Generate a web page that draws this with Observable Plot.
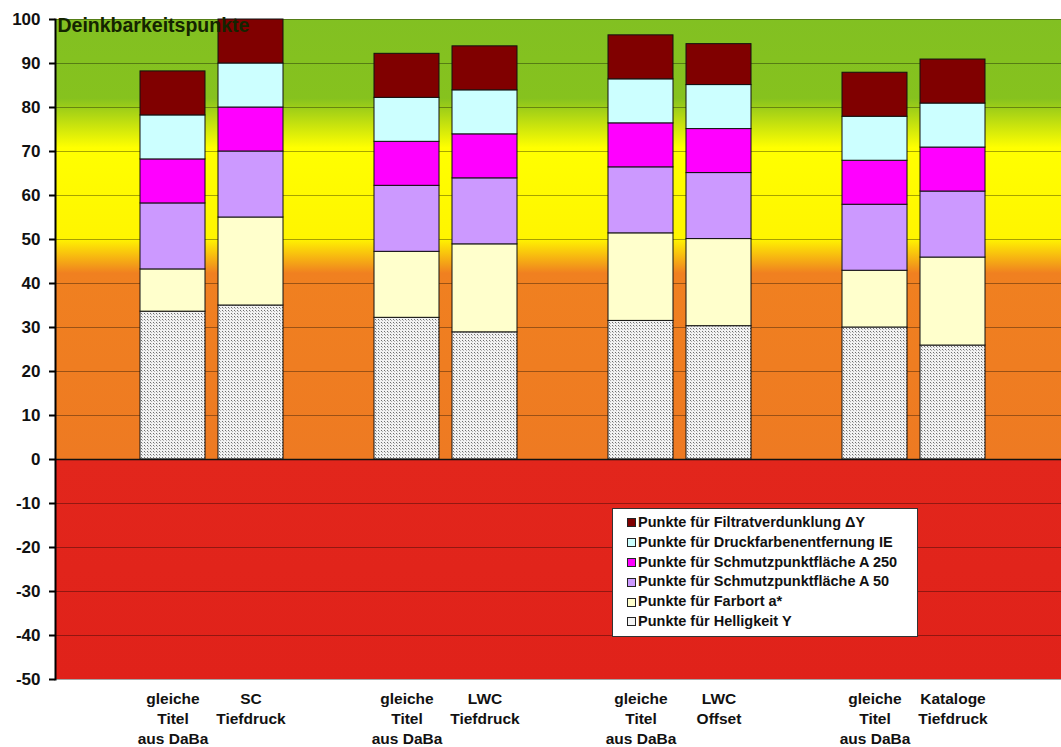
<!DOCTYPE html>
<html>
<head>
<meta charset="utf-8">
<script src="https://cdn.jsdelivr.net/npm/d3@7"></script>
<script src="https://cdn.jsdelivr.net/npm/@observablehq/plot@0.6"></script>
<style>
  html, body { margin: 0; padding: 0; background: #fff; }
  #wrap { position: relative; width: 1061px; height: 747px; overflow: hidden; font-family: "Liberation Sans", Arial, sans-serif; }
  #legend {
    position: absolute; left: 612px; top: 508px; width: 304px; height: 123px;
    background: #fff; border: 1px solid #333; box-sizing: content-box;
    padding-top: 4px; font-weight: bold; font-size: 14.5px; color: #111;
  }
  #legend .row { height: 19.8px; line-height: 19.8px; display: flex; align-items: center; padding-left: 14px; white-space: nowrap; }
  #legend .sw { width: 7px; height: 7px; border: 1px solid #222; margin-right: 2px; flex: none; }
</style>
</head>
<body>
<div id="wrap"></div>
<script>
// Bars, in drawing order (one pair per paper grade)
const bars = [
  "gleiche\nTitel\naus DaBa", "SC\nTiefdruck",
  "gleiche\nTitel\naus DaBa", "LWC\nTiefdruck",
  "gleiche\nTitel\naus DaBa", "LWC\nOffset",
  "gleiche\nTitel\naus DaBa", "Kataloge\nTiefdruck"
];

// Score components, bottom to top of each stack
const helligkeit = [33.6, 35.0, 32.2, 28.9, 31.5, 30.3, 30.0, 25.9];
const farbort    = [ 9.6, 20.0, 15.0, 20.0, 19.9, 19.8, 12.9, 20.0];
const a50        = [15.0, 15.0, 15.0, 15.0, 15.0, 15.0, 15.0, 15.0];
const a250       = [10.0, 10.0, 10.0, 10.0, 10.0, 10.0, 10.0, 10.0];
const ie         = [10.0, 10.0, 10.0, 10.0, 10.0, 10.0, 10.0, 10.0];
const filtrat    = [10.0, 10.0, 10.0, 10.0, 10.0,  9.3, 10.0, 10.0];

const seriesNames = [
  "Punkte für Helligkeit Y",
  "Punkte für Farbort a*",
  "Punkte für Schmutzpunktfläche A 50",
  "Punkte für Schmutzpunktfläche A 250",
  "Punkte für Druckfarbenentfernung IE",
  "Punkte für Filtratverdunklung ΔY"
];
const seriesValues = [helligkeit, farbort, a50, a250, ie, filtrat];
const seriesFills = ["url(#hellPattern)", "#FFFFCC", "#CC99FF", "#FF00FF", "#CCFFFF", "#800000"];

const yTicks = d3.range(-50, 101, 10);
const title = "Deinkbarkeitspunkte";

// Category slots: an empty spacer before each pair and one after the last
const keys = bars.map((_, i) => "b" + i);
const domain = [];
for (let g = 0; g < 4; g++) domain.push("gap" + g, keys[2 * g], keys[2 * g + 1]);
domain.push("gap4");
const labelOf = Object.fromEntries(keys.map((k, i) => [k, bars[i]]));

// Long table for stacking: series-major so Helligkeit sits at the bottom
const rows = [];
seriesValues.forEach((vals, s) => vals.forEach((v, i) => rows.push({key: keys[i], series: seriesNames[s], value: v, fill: seriesFills[s]})));

const background = [{y1: 100, y2: -50, fill: "url(#zoneGradient)"}];

const plot = Plot.plot({
  width: 1061,
  height: 747,
  marginTop: 19,
  marginBottom: 68,
  marginLeft: 55,
  marginRight: 0,
  style: {fontFamily: "'Liberation Sans', Arial, sans-serif", background: "transparent", color: "#111"},
  x: {domain, range: [53.5, 1071.5], paddingInner: 0.17, paddingOuter: 0.085, axis: null},
  y: {domain: [-50, 100], axis: null},
  color: {type: "identity"},
  marks: [
    Plot.rectY(background, {y1: "y1", y2: "y2", fill: "fill"}),
    Plot.gridY({ticks: yTicks, stroke: "#000", strokeOpacity: 0.35, strokeWidth: 1}),
    Plot.barY(rows, {x: "key", y: "value", fill: "fill", stroke: "#111", strokeWidth: 1}),
    Plot.text([title], {text: d => d, frameAnchor: "top-left", lineAnchor: "top", dx: 2, dy: -1,
      fontSize: 19.5, fontWeight: "bold", fill: "#142400"}),
    Plot.ruleY([0], {stroke: "#111", strokeWidth: 1.5}),
    Plot.frame({anchor: "left", stroke: "#000", strokeWidth: 2}),
    Plot.axisY({ticks: yTicks, tickSize: 6, tickPadding: 9, strokeWidth: 2, stroke: "#000",
      fontSize: 17, fontWeight: "bold", label: null, tickFormat: d => String(d)}),
    Plot.axisX({tickSize: 0, tickPadding: 11, fontSize: 15.5, fontWeight: "bold", lineHeight: 1.27,
      label: null, tickFormat: k => labelOf[k] ?? ""})
  ]
});

// Gradient for the rating zones and the fill pattern of the Helligkeit segment
const defs = `
<defs>
  <linearGradient id="zoneGradient" x1="0" y1="0" x2="0" y2="1">
    <stop offset="0" stop-color="#82C022"/>
    <stop offset="0.12" stop-color="#86C21E"/>
    <stop offset="0.195" stop-color="#FFFF00"/>
    <stop offset="0.333" stop-color="#FFF500"/>
    <stop offset="0.385" stop-color="#F08020"/>
    <stop offset="0.6666" stop-color="#EE7A22"/>
    <stop offset="0.6667" stop-color="#E2261C"/>
    <stop offset="1" stop-color="#E0221A"/>
  </linearGradient>
  <pattern id="hellPattern" width="6" height="6" patternUnits="userSpaceOnUse">
    <rect width="6" height="6" fill="#F2F2F2"/>
    <path d="M0,1 L1.5,2.5 M3,4 L4.5,5.5 M3,1 L4.5,2.5 M0,4 L1.5,5.5" stroke="#6e6e6e" stroke-width="1" fill="none"/>
  </pattern>
</defs>`;
plot.insertAdjacentHTML("afterbegin", defs);

const wrap = document.getElementById("wrap");
wrap.appendChild(plot);

// Legend, listed top to bottom like the stacks
const legend = document.createElement("div");
legend.id = "legend";
for (let s = seriesNames.length - 1; s >= 0; s--) {
  const row = document.createElement("div");
  row.className = "row";
  const sw = document.createElement("span");
  sw.className = "sw";
  sw.style.background = s === 0 ? "#F4F4F4" : seriesFills[s];
  row.appendChild(sw);
  row.appendChild(document.createTextNode(seriesNames[s]));
  legend.appendChild(row);
}
wrap.appendChild(legend);
</script>
</body>
</html>
